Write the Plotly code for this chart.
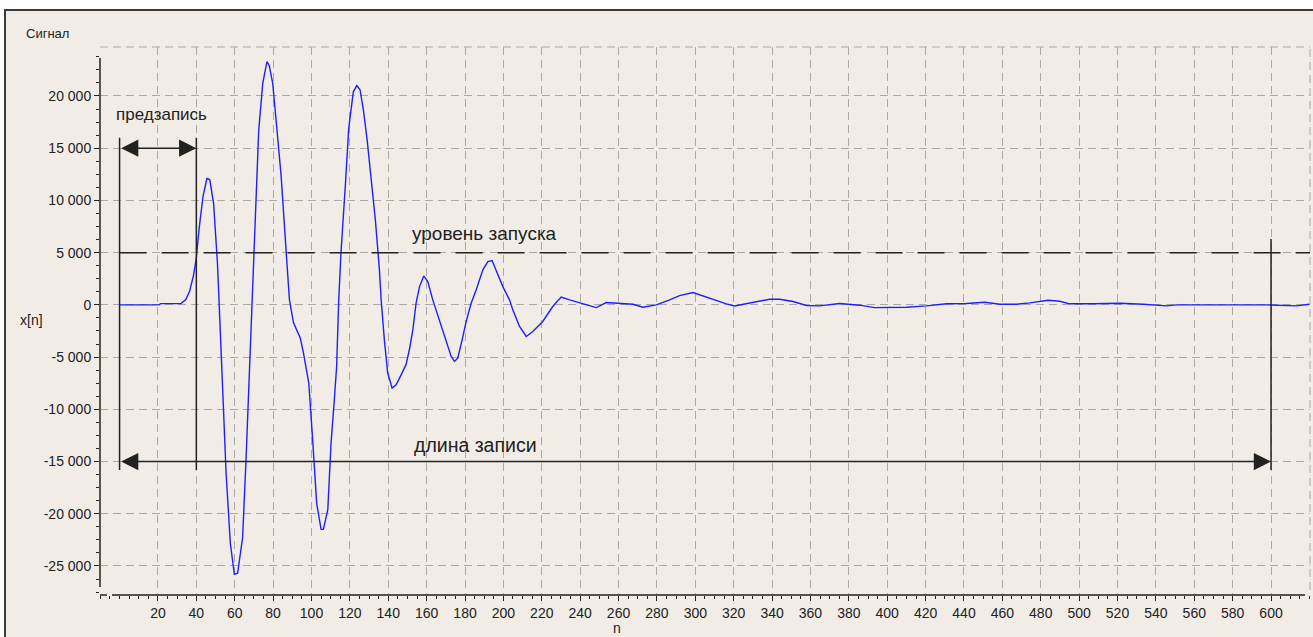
import plotly.graph_objects as go

# ---------------- DATA ----------------
sample_n = [
    0, 20.5, 21.5, 32, 34.5, 36.5, 38.5, 40, 41.5, 43.5, 45.5, 47, 49, 51, 52.3,
    54.2, 55.5, 57.7, 59.8, 61.5, 64.1, 65.9, 68, 69, 70.2, 72.5, 74.6, 76.8, 78,
    79.8, 81.9, 84.2, 86.8, 88.5, 90.6, 94.2, 95.8, 98.6, 100.6, 102.7, 105, 106.2,
    108.5, 110.2, 111.9, 113.1, 114.2, 115.4, 117.7, 119.4, 121.8, 123.6, 125.3,
    127.1, 129, 131.1, 133.3, 135.4, 136.3, 138, 139.7, 142, 144.1, 146.7, 149.3,
    151, 152.8, 154.5, 156.3, 158.5, 160.6, 163.2, 166.7, 170.2, 172.8, 174.5,
    176.2, 178.5, 180.6, 183.2, 185.8, 189.3, 191.9, 194.1, 196.2, 199.7, 203.2,
    204.9, 208.4, 211.9, 215.3, 220.5, 225.7, 230.1, 234.5, 239.7, 244.9, 248.4,
    253.6, 260.5, 267.5, 272.7, 279.7, 286.6, 291.8, 298.8, 304, 309.2, 316.2,
    320.5, 326.6, 333.5, 338.7, 343.9, 350.9, 357.9, 364.7, 375.2, 385.6, 393.4,
    401.3, 410, 420.4, 430.9, 441.3, 450.8, 458.7, 467.4, 474.3, 483.8, 489.9,
    495.1, 507.3, 521.3, 533.4, 545.6, 550.8, 576.9, 597.7, 613.3, 620,
]
signal = [
    0, 0, 120, 120, 500, 1300, 2800, 4500, 7400, 10400, 12100, 12000, 9700, 4000, -1700,
    -10000, -16100, -22800, -25800, -25700, -22300, -14800, -4900, 500, 5100, 16700, 21200, 23300, 22900,
    21200, 17000, 12300, 5100, 500, -1700, -3200, -4600, -7500, -12900, -19000, -21500, -21500,
    -19600, -13200, -9100, -5900, 500, 5100, 11600, 16900, 20400, 21000, 20600,
    18600, 15800, 12300, 8100, 3350, 500, -3400, -6500, -7970, -7650, -6700, -5700,
    -4300, -2400, 160, 1750, 2770, 2230, 480, -1430, -3510, -4940, -5420,
    -5100, -3350, -1590, 160, 1430, 3350, 4140, 4240, 3350, 1750, 480,
    -480, -2070, -3030, -2550, -1590, -160, 740, 480, 220, -100, -260,
    220, 160, 60, -220, 0, 480, 890, 1180, 860, 480, 100,
    -100, 100, 320, 540, 540, 320, -60, -100, 130, -30, -260,
    -230, -230, -100, 100, 130, 250, 60, 60, 190, 440, 350,
    100, 100, 160, 60, -100, 0, 0, 0, -100, 60,
]

x_ticks = list(range(20, 601, 20))
x_ticklabels = [str(v) for v in x_ticks]
y_ticks = [20000, 15000, 10000, 5000, 0, -5000, -10000, -15000, -20000, -25000]
y_ticklabels = ["20 000", "15 000", "10 000", "5 000", "0",
                "-5 000", "-10 000", "-15 000", "-20 000", "-25 000"]

trigger_level = 5000
pre_record = 40
record_length = 600

# ---------------- STYLE ----------------
BG = "#F1EDE6"
GRID = "#ABA9A5"
INK = "#222222"
FONT = "Liberation Sans, Arial, sans-serif"

W, H = 1313, 637
L, R, T, B = 100, 3, 47, 42          # plot box in pixels
X_RANGE = [-10.2, 620.3]
Y_RANGE = [-27780, 24690]


def px_x(p):
    return (p - L) / (W - L - R)


def px_y(p):
    return (H - B - p) / (H - T - B)


fig = go.Figure()
fig.add_trace(go.Scatter(
    x=sample_n, y=signal, mode="lines",
    line=dict(color="#1e1eff", width=1.4),
    hoverinfo="skip", showlegend=False,
))

shapes = [
    # panel frame
    dict(type="rect", xref="paper", yref="paper",
         x0=px_x(5), x1=px_x(1340), y0=px_y(10), y1=px_y(670),
         fillcolor=BG, line=dict(color="#3a3a3a", width=2), layer="below"),
    # dashed top / right border of plot box
    dict(type="line", xref="paper", yref="paper", x0=0, x1=1, y0=1, y1=1,
         line=dict(color=GRID, width=1, dash="8px,5px")),
    dict(type="line", xref="paper", yref="paper", x0=1, x1=1, y0=px_y(590), y1=1,
         line=dict(color=GRID, width=1, dash="8px,5px")),
    # axis lines
    dict(type="line", xref="paper", yref="paper", x0=0, x1=0,
         y0=px_y(587), y1=px_y(58), line=dict(color=INK, width=1.5)),
    dict(type="line", xref="paper", yref="paper", x0=px_x(112), x1=px_x(1305),
         y0=0, y1=0, line=dict(color=INK, width=1.5)),
    dict(type="line", xref="paper", yref="paper", x0=0, x1=px_x(107),
         y0=0, y1=0, line=dict(color=INK, width=1.5)),
    # record markers
    dict(type="line", xref="x", yref="y", x0=0, x1=0, y0=16000, y1=-15800,
         line=dict(color=INK, width=1.5)),
    dict(type="line", xref="x", yref="y", x0=pre_record, x1=pre_record,
         y0=16000, y1=-15800, line=dict(color=INK, width=1.5)),
    dict(type="line", xref="x", yref="y", x0=record_length, x1=record_length,
         y0=6300, y1=-15800, line=dict(color=INK, width=1.5)),
    # trigger level
    dict(type="line", xref="x", yref="y", x0=0, x1=X_RANGE[1],
         y0=trigger_level, y1=trigger_level,
         line=dict(color=INK, width=1.5, dash="27px,15px")),
]

arrow = dict(showarrow=True, text="", arrowside="end+start",
             arrowhead=2, startarrowhead=2, arrowsize=2.3, startarrowsize=2.3,
             arrowwidth=1.5, arrowcolor=INK, axref="x", ayref="y",
             xref="x", yref="y", standoff=0, startstandoff=0)

label = dict(showarrow=False, xanchor="center", yanchor="middle")

annotations = [
    dict(arrow, x=pre_record, y=15000, ax=0, ay=15000),
    dict(arrow, x=record_length, y=-15000, ax=0, ay=-15000),
    dict(label, text="предзапись", x=21.6, y=18180, xref="x", yref="y",
         font=dict(size=17, color=INK)),
    dict(label, text="уровень запуска", x=190.2, y=6790, xref="x", yref="y",
         font=dict(size=19, color=INK)),
    dict(label, text="длина записи", x=185.7, y=-13410, xref="x", yref="y",
         font=dict(size=19.5, color=INK)),
    dict(label, text="x[n]", x=px_x(31), y=px_y(320), xref="paper", yref="paper",
         font=dict(size=14, color=INK)),
    dict(label, text="n", x=px_x(617), y=px_y(628), xref="paper", yref="paper",
         font=dict(size=14, color=INK)),
]

axis_common = dict(
    showline=False, zeroline=False, showgrid=True,
    gridcolor=GRID, gridwidth=1, griddash="8px,5px",
    ticks="outside", ticklen=5, tickwidth=1, tickcolor=INK,
    tickfont=dict(size=14, color=INK), tickmode="array",
)

fig.update_layout(
    width=W, height=H,
    margin=dict(l=L, r=R, t=T, b=B),
    paper_bgcolor="white", plot_bgcolor="rgba(0,0,0,0)",
    font=dict(family=FONT, color=INK),
    title=dict(text="Сигнал", x=26 / W, y=1 - 33 / H, xref="container", yref="container",
               xanchor="left", yanchor="middle", font=dict(size=13, color=INK)),
    xaxis=dict(axis_common, range=X_RANGE, tickvals=x_ticks, ticktext=x_ticklabels,
               minor=dict(tickmode="linear", tick0=0, dtick=5, ticks="outside",
                          ticklen=3, tickcolor=INK, showgrid=False)),
    yaxis=dict(axis_common, range=Y_RANGE, tickvals=y_ticks, ticktext=y_ticklabels,
               minor=dict(tickmode="linear", tick0=0, dtick=1250, ticks="outside",
                          ticklen=3, tickcolor=INK, showgrid=False)),
    shapes=shapes,
    annotations=annotations,
    showlegend=False,
)

fig.write_html("out.html", config={"displayModeBar": False},
               post_script="document.body.style.margin='0';")
